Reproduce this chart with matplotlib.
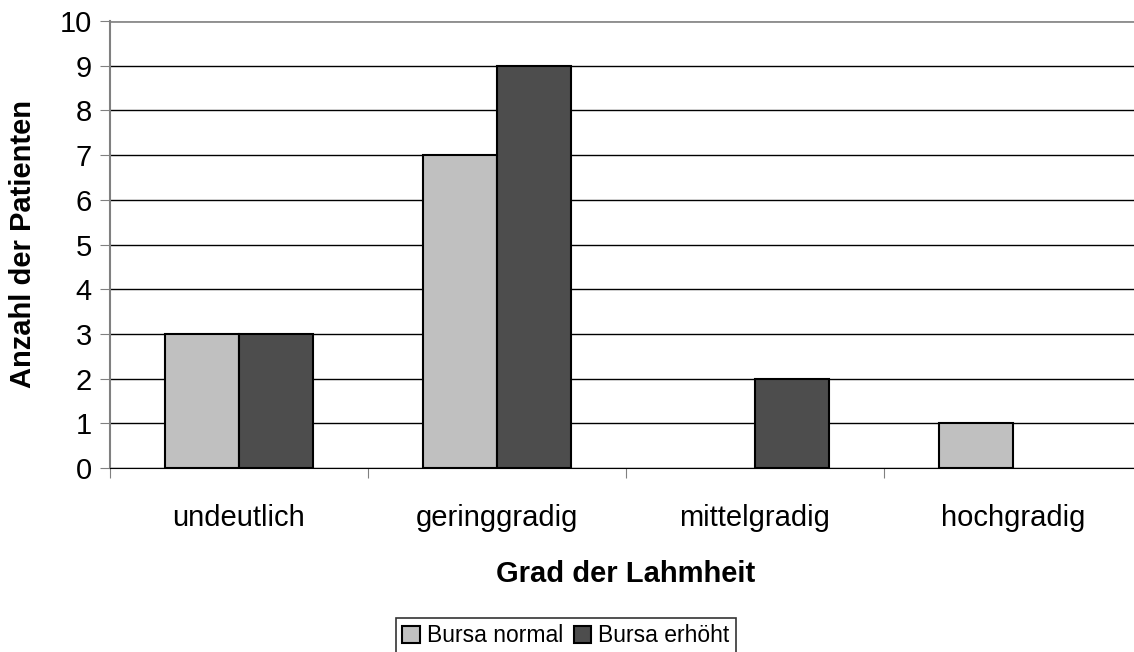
import numpy as np
import matplotlib
matplotlib.use("Agg")
import matplotlib.pyplot as plt

plt.rcParams['font.family'] = ['Liberation Sans', 'DejaVu Sans']

categories = ['undeutlich', 'geringgradig', 'mittelgradig', 'hochgradig']
bursa_normal = [3, 7, 0, 1]
bursa_erhoeht = [3, 9, 2, 0]

fig = plt.figure(figsize=(11.34, 6.52), dpi=100)
ax = fig.add_axes([110 / 1134, 184 / 652, 1032 / 1134, 447 / 652])

x = np.arange(len(categories)) + 0.5
w = 0.287
for vals, off, col, lab in [(bursa_normal, -w / 2, '#c0c0c0', 'Bursa normal'),
                            (bursa_erhoeht, w / 2, '#4d4d4d', 'Bursa erhöht')]:
    bars = ax.bar(x + off, vals, w, color=col, edgecolor='black', linewidth=1.5,
                  label=lab, zorder=3)
    # empty bars are not drawn
    for b, v in zip(bars, vals):
        if v == 0:
            b.set_visible(False)

ax.set_xlim(0, 4)
ax.set_ylim(0, 10)
ax.set_yticks(range(0, 11))
ax.yaxis.grid(True, color='black', linewidth=1, zorder=0)
ax.set_axisbelow(True)

ax.set_xticks(range(0, 5))
ax.set_xticklabels([])
ax.set_xticks(x, minor=True)
ax.set_xticklabels(categories, minor=True, fontsize=21)
ax.tick_params(axis='x', which='minor', length=0, pad=26)
ax.tick_params(axis='x', which='major', length=7, color='#808080')
ax.tick_params(axis='y', labelsize=21, length=7, color='#808080', pad=6)

for s in ['top', 'right']:
    ax.spines[s].set_visible(False)
ax.spines['left'].set_color('#808080')
ax.spines['left'].set_linewidth(1.5)
ax.spines['bottom'].set_color('black')
ax.axhline(10, color='#909090', linewidth=2, zorder=1)

ax.set_xlabel('Grad der Lahmheit', fontsize=21, fontweight='bold', labelpad=20)
ax.set_ylabel('Anzahl der Patienten', fontsize=21, fontweight='bold', labelpad=16)

handles, labels = ax.get_legend_handles_labels()
leg = fig.legend(handles, labels, loc='center', bbox_to_anchor=(566 / 1134, 1 - 636 / 652),
                 ncol=2, fontsize=16.5, frameon=True, fancybox=False, edgecolor='black',
                 handlelength=0.75, handleheight=0.75, handletextpad=0.3,
                 columnspacing=0.5, borderpad=0.3, borderaxespad=0)
leg.get_frame().set_linewidth(1.2)

fig.savefig('out.png', dpi=100)
